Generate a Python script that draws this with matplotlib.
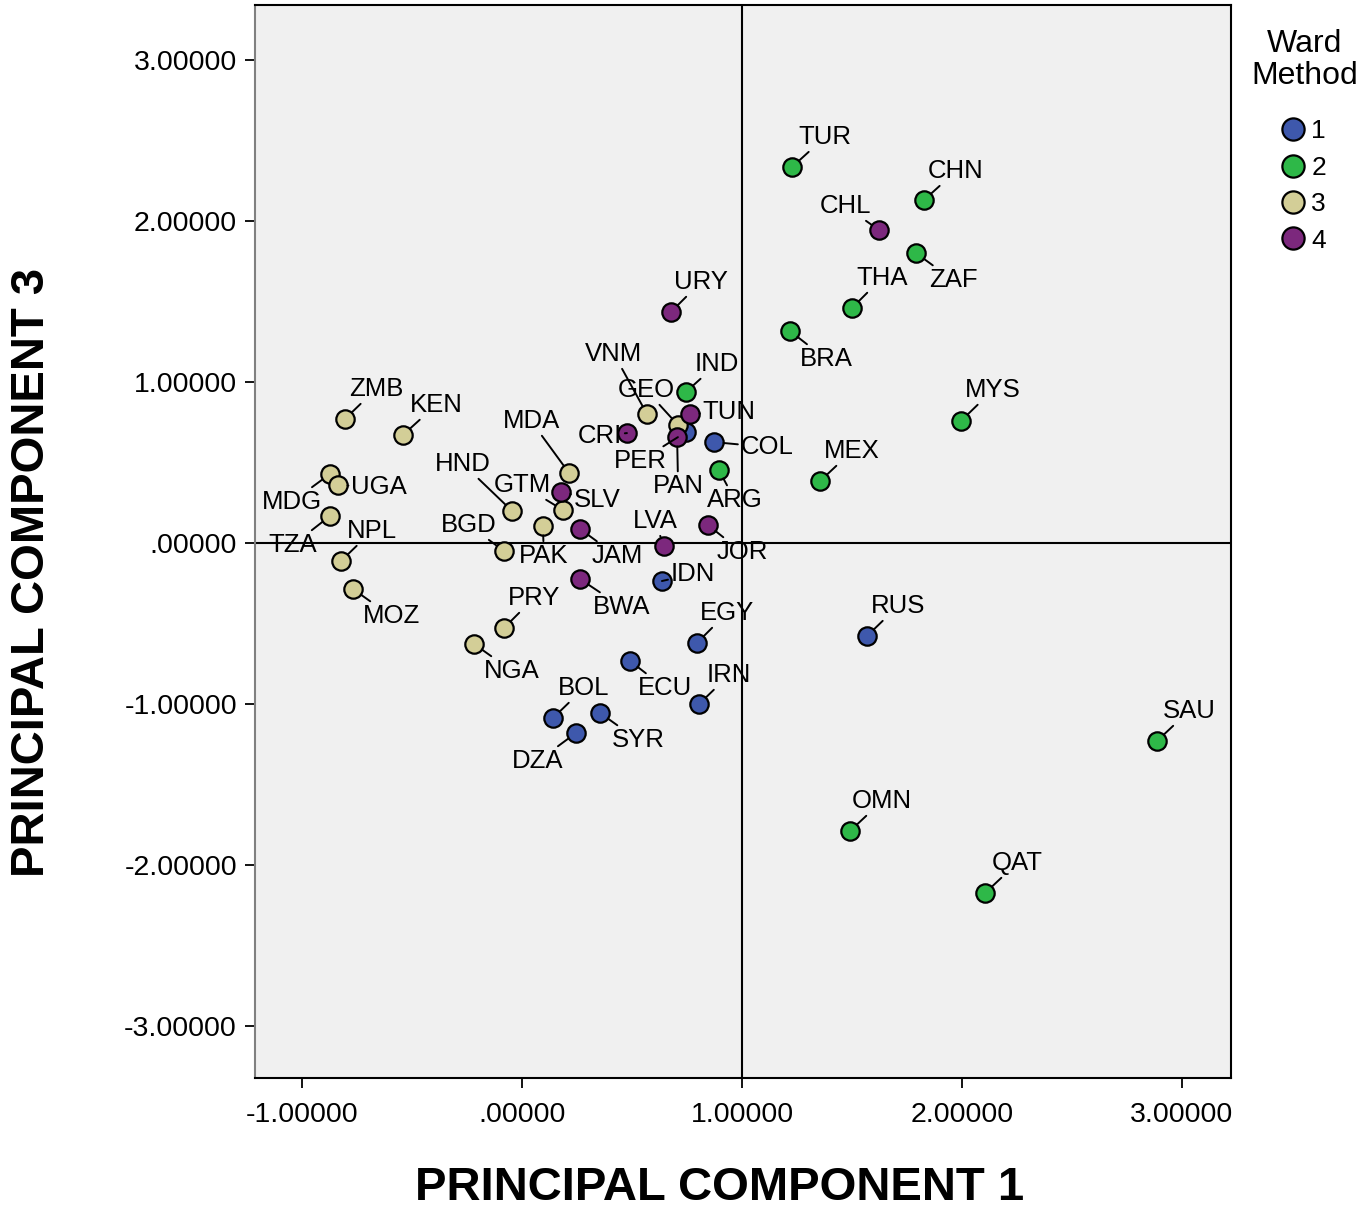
import numpy as np
import matplotlib
matplotlib.use("Agg")
import matplotlib.pyplot as plt
from matplotlib.lines import Line2D

plt.rcParams['font.family'] = ['Liberation Sans', 'DejaVu Sans']

# cluster membership (Ward method) and component scores
clusters = [1, 2, 3, 4]
cluster_colors = ['#3E58AC', '#2EB848', '#D3CE97', '#7C287D']

names_1 = ['COL', 'PER', 'IDN', 'EGY', 'ECU', 'IRN', 'BOL', 'SYR', 'DZA', 'RUS']
pc1_1 = [0.873, 0.745, 0.636, 0.795, 0.491, 0.805, 0.141, 0.355, 0.245, 1.568]
pc3_1 = [0.627, 0.689, -0.236, -0.621, -0.733, -1.000, -1.087, -1.056, -1.180, -0.578]

names_2 = ['TUR', 'CHN', 'ZAF', 'THA', 'BRA', 'MYS', 'MEX', 'IND', 'ARG', 'SAU', 'OMN', 'QAT']
pc1_2 = [1.227, 1.827, 1.791, 1.500, 1.218, 1.995, 1.355, 0.745, 0.895, 2.886, 1.491, 2.105]
pc3_2 = [2.335, 2.130, 1.801, 1.460, 1.317, 0.758, 0.385, 0.938, 0.453, -1.230, -1.789, -2.174]

names_3 = ['ZMB', 'KEN', 'MDG', 'UGA', 'TZA', 'NPL', 'MOZ', 'HND', 'PAK', 'BGD',
           'MDA', 'GTM', 'VNM', 'GEO', 'PRY', 'NGA']
pc1_3 = [-0.805, -0.541, -0.873, -0.836, -0.873, -0.823, -0.768, -0.045, 0.095, -0.082,
         0.214, 0.186, 0.568, 0.709, -0.082, -0.218]
pc3_3 = [0.770, 0.671, 0.429, 0.360, 0.168, -0.112, -0.286, 0.199, 0.106, -0.050,
         0.435, 0.205, 0.801, 0.733, -0.528, -0.627]

names_4 = ['CHL', 'URY', 'TUN', 'CRI', 'PAN', 'SLV', 'JAM', 'BWA', 'LVA', 'JOR']
pc1_4 = [1.623, 0.677, 0.764, 0.477, 0.705, 0.177, 0.264, 0.264, 0.645, 0.845]
pc3_4 = [1.944, 1.435, 0.801, 0.683, 0.658, 0.317, 0.087, -0.224, -0.019, 0.112]

x_ticks = [-1, 0, 1, 2, 3]
y_ticks = [-3, -2, -1, 0, 1, 2, 3]

# where each case label sits relative to its point (pixels, right / down)
label_offset = {
    'TUR': (33, -30), 'CHN': (32, -29), 'CHL': (-34, -24), 'ZAF': (37, 27),
    'THA': (30, -30), 'URY': (30, -30), 'BRA': (36, 28), 'MYS': (32, -31),
    'IND': (31, -28), 'VNM': (-33, -60), 'GEO': (-32, -35), 'TUN': (39, -2),
    'CRI': (-27, 3), 'PER': (-46, 29), 'PAN': (1, 49), 'COL': (53, 5),
    'MEX': (32, -30), 'ARG': (16, 30), 'MDA': (-38, -52), 'HND': (-49, -47),
    'GTM': (-41, -25), 'SLV': (36, 8), 'ZMB': (31, -30), 'KEN': (33, -30),
    'UGA': (41, 2), 'MDG': (-38, 28), 'TZA': (-37, 29), 'NPL': (31, -30),
    'MOZ': (38, 27), 'BGD': (-35, -26), 'PAK': (1, 30), 'JAM': (37, 27),
    'LVA': (-9, -25), 'JOR': (34, 27), 'IDN': (31, -7), 'BWA': (42, 28),
    'PRY': (30, -30), 'EGY': (30, -30), 'RUS': (31, -30), 'NGA': (38, 27),
    'ECU': (35, 27), 'IRN': (30, -29), 'BOL': (31, -30), 'SYR': (38, 27),
    'DZA': (-38, 28), 'SAU': (32, -30), 'OMN': (32, -30), 'QAT': (32, -30),
}

groups = [(names_1, pc1_1, pc3_1), (names_2, pc1_2, pc3_2),
          (names_3, pc1_3, pc3_3), (names_4, pc1_4, pc3_4)]

fig = plt.figure(figsize=(13.63, 12.10), dpi=100)
ax = fig.add_axes([255 / 1363, 132 / 1210, 976 / 1363, 1073 / 1210])
ax.set_facecolor('#F0F0F0')
ax.set_xlim(-1.2136, 3.2227)
ax.set_ylim(-3.323, 3.342)

ax.axvline(1.0, color='black', lw=1.5, zorder=1)
ax.axhline(0.0, color='black', lw=1.5, zorder=1)

for (names, xs, ys), c in zip(groups, cluster_colors):
    ax.scatter(xs, ys, s=175, c=c, edgecolors='black', linewidths=1.6, zorder=3)
    for n, x, y in zip(names, xs, ys):
        dx, dy = label_offset[n]
        ax.annotate(n, (x, y), xytext=(dx, -dy), textcoords='offset pixels',
                    ha='center', va='center', fontsize=18.5, zorder=4,
                    arrowprops=dict(arrowstyle='-', color='black', lw=1.4,
                                    shrinkA=0, shrinkB=6.8))


def fmt(v):
    s = '%.5f' % v
    return s.replace('0.', '.', 1) if abs(v) < 1 else s


ax.set_xticks(x_ticks)
ax.set_xticklabels([fmt(v) for v in x_ticks])
ax.set_yticks(y_ticks)
ax.set_yticklabels([fmt(v) for v in y_ticks])
ax.tick_params(direction='out', length=7, width=1.3, labelsize=20.5, color='black')
ax.tick_params(axis='x', pad=10)
ax.tick_params(axis='y', pad=6)
for side in ['top', 'right', 'bottom']:
    ax.spines[side].set_linewidth(1.5)
ax.spines['left'].set_color('#808080')
ax.spines['left'].set_linewidth(1.5)

fig.text(720 / 1363, 1 - 1188 / 1210, 'PRINCIPAL COMPONENT 1', ha='center', va='center',
         fontsize=34, fontweight='bold')
fig.text(32 / 1363, 1 - 572 / 1210, 'PRINCIPAL COMPONENT 3', ha='center', va='center',
         fontsize=34, fontweight='bold', rotation=90)

# legend title and entries
fig.text(1305 / 1363, 1 - 60 / 1210, 'Ward\nMethod', ha='center', va='center',
         fontsize=23, linespacing=1.12)
handles = [Line2D([], [], marker='o', ls='none', markersize=16, markerfacecolor=c,
                  markeredgecolor='black', markeredgewidth=1.6) for c in cluster_colors]
leg = fig.legend(handles, [str(k) for k in clusters],
                 loc='upper left', bbox_to_anchor=(1261 / 1363, 1 - 101 / 1210),
                 frameon=False, fontsize=19, handlelength=1.0,
                 handletextpad=0.2, labelspacing=0.47, borderpad=0.2)

fig.savefig('out.png', dpi=100)
